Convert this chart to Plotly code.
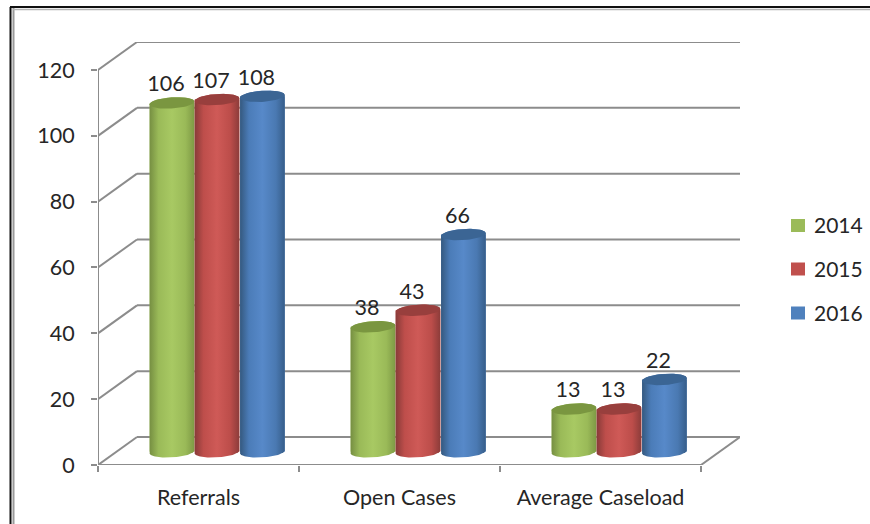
import numpy as np
import plotly.graph_objects as go

categories = ["Referrals", "Open Cases", "Average Caseload"]
years = ["2014", "2015", "2016"]
values_2014 = [106, 38, 13]
values_2015 = [107, 43, 13]
values_2016 = [108, 66, 22]
y_ticks = [0, 20, 40, 60, 80, 100, 120]
series_values = [values_2014, values_2015, values_2016]

# style
flat = ["#9BBB59", "#C0504D", "#4F81BD"]
caps = ["#7A9640", "#983F3D", "#3B6594"]
ramp_stops = [0, 0.2, 0.5, 0.8, 1]
ramps = [
    ["#768F42", "#9ABA58", "#A8C963", "#9ABA58", "#7E9A45"],
    ["#883B39", "#BE4E4B", "#CF5A57", "#BC4D4A", "#8C3C3A"],
    ["#35597F", "#4B7CB8", "#5789C9", "#4A79B2", "#375E8A"],
]
GREY = "#8C8C8C"
TEXT = "#262626"

DX, DY = 0.194, 8.5          # depth of the 3D box (x-units, y-units)
Y_TOP = 128.5
X_TOP = 3.194
BASE = 4.0                   # floor position of the cylinders
OFFS = [0.368, 0.592, 0.818] # position of each series inside a category
BW = 0.222
A, B, TILT = BW / 2, 1.7, 0.42

fig = go.Figure()

# flat bars from the data, under the shaded cylinders
for s, name in enumerate(years):
    fig.add_trace(go.Bar(
        x=[i + OFFS[s] for i in range(3)], y=series_values[s], base=BASE, width=BW,
        name=name, showlegend=False, marker=dict(color=flat[s], line=dict(width=0)),
        hoverinfo="skip"))

def ell(cx, cy, t):
    return cx + A * np.cos(t), cy + B * np.sin(t) + TILT * np.cos(t)

# cylinders
for s in range(3):
    for i in range(3):
        cx = i + OFFS[s]
        top = BASE + series_values[s][i]
        xb, yb = ell(cx, BASE, np.linspace(np.pi, 2 * np.pi, 40))
        xt, yt = ell(cx, top, np.linspace(0, np.pi, 40))
        fig.add_trace(go.Scatter(
            x=np.r_[xb, xt], y=np.r_[yb, yt], mode="lines", line=dict(width=0),
            fill="toself", showlegend=False, hoverinfo="skip",
            fillgradient=dict(type="horizontal", start=cx - A, stop=cx + A,
                              colorscale=[[p, c] for p, c in zip(ramp_stops, ramps[s])])))
        xc, yc = ell(cx, top, np.linspace(0, 2 * np.pi, 60))
        fig.add_trace(go.Scatter(
            x=xc, y=yc, mode="lines", line=dict(width=0), fill="toself",
            fillcolor=caps[s], showlegend=False, hoverinfo="skip"))

# data labels
for s in range(3):
    fig.add_trace(go.Scatter(
        x=[i + OFFS[s] - 0.03 for i in range(3)],
        y=[BASE + v + 5.2 for v in series_values[s]],
        text=[str(v) for v in series_values[s]], mode="text", textposition="middle center",
        textfont=dict(family="Lato", size=21.5, color=TEXT),
        showlegend=False, hoverinfo="skip"))

# box: walls and floor
shapes = []
def seg(x0, y0, x1, y1, w=2, col=GREY):
    shapes.append(dict(type="line", xref="x", yref="y", x0=x0, y0=y0, x1=x1, y1=y1,
                       layer="below", line=dict(color=col, width=w)))
for t in y_ticks:
    seg(0, t, DX, t + DY)
    seg(DX, t + DY, X_TOP, t + DY)
seg(0, 0, 0, y_ticks[-1])
seg(0, 0, 3, 0)
seg(3, 0, X_TOP, DY)

# outer frame of the picture
PX_W, PX_H = 642.0, 423.0
def px(v): return (v - 98) / PX_W
def py(v): return (465 - v) / PX_H
for (xa, ya, xb, yb, w, c) in [
    (10.5, 7, 10.5, 524, 2, "#111111"), (13.5, 8, 13.5, 524, 2, "#9A9A9A"),
    (10, 7, 870, 7, 2, "#111111"), (13, 9.5, 870, 9.5, 1.5, "#B5B5B5"),
]:
    shapes.append(dict(type="line", xref="paper", yref="paper", x0=px(xa), y0=py(ya),
                       x1=px(xb), y1=py(yb), layer="above", line=dict(color=c, width=w)))

# legend: swatch and year, one row per series
annotations = []
for s, (name, yc) in enumerate(zip(years, [225.5, 269, 313])):
    shapes.append(dict(type="rect", xref="paper", yref="paper", x0=px(791), x1=px(805),
                       y0=py(yc - 6.5), y1=py(yc + 6.5), layer="above",
                       fillcolor=flat[s], line=dict(width=0)))
    annotations.append(dict(xref="paper", yref="paper", x=px(812), y=py(yc - 0.5), text=name,
                            xanchor="left", yanchor="middle", showarrow=False,
                            font=dict(family="Lato", size=21, color=TEXT)))

FONT = dict(family="Lato", size=21.5, color=TEXT)
fig.update_layout(
    width=870, height=524, autosize=False,
    margin=dict(l=98, r=130, t=42, b=59, pad=0, autoexpand=False),
    paper_bgcolor="white", plot_bgcolor="white",
    barmode="overlay", shapes=shapes, annotations=annotations, font=FONT, showlegend=False,
    xaxis=dict(range=[0, X_TOP], tickvals=[0.5, 1.5, 2.5], ticktext=categories,
               showgrid=False, zeroline=False, showline=False, ticks="", ticklabelstandoff=17,
               minor=dict(tickmode="array", tickvals=[0, 1, 2, 3], ticks="outside",
                          ticklen=6, tickwidth=2, tickcolor=GREY, showgrid=False),
               tickfont=FONT, fixedrange=True, automargin=False),
    yaxis=dict(range=[0, Y_TOP], tickvals=y_ticks, showgrid=False, zeroline=False, showline=False,
               ticks="outside", ticklen=6, tickwidth=2, tickcolor=GREY, ticklabelstandoff=12,
               tickfont=FONT, fixedrange=True, automargin=False),
)
fig.write_html("out.html", post_script="document.body.style.margin='0';document.body.style.overflow='hidden';",
               config=dict(displayModeBar=False))
